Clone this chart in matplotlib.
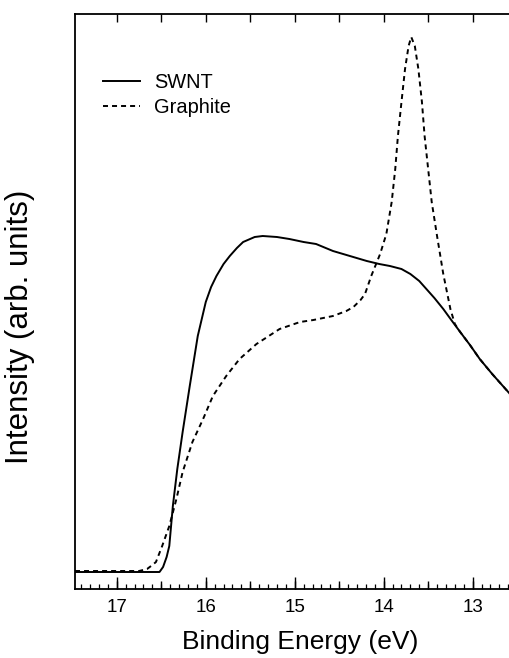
import matplotlib
matplotlib.use("Agg")
import matplotlib.pyplot as plt
from matplotlib.ticker import MultipleLocator, FixedLocator

plt.rcParams['font.family'] = ['Liberation Sans', 'DejaVu Sans']
plt.rcParams['lines.scale_dashes'] = False

# Binding energy (eV) and intensity (arb. units)
swnt_energy = [17.47, 16.52, 16.48, 16.44, 16.41, 16.37, 16.32, 16.26, 16.18, 16.09,
               16.00, 15.94, 15.88, 15.80, 15.73, 15.65, 15.58, 15.45, 15.36, 15.20,
               15.06, 14.90, 14.76, 14.57, 14.38, 14.19, 14.05, 13.93, 13.80, 13.70,
               13.60, 13.52, 13.43, 13.33, 13.24, 13.14, 13.03, 12.92, 12.78, 12.61,
               12.58]
swnt_intensity = [17, 17, 22, 32, 43, 83, 120, 157, 203, 253,
                  287, 302, 313, 325, 333, 341, 347, 352, 353, 352,
                  350, 347, 345, 338, 333, 328, 325, 323, 320, 315,
                  308, 300, 291, 280, 269, 257, 244, 230, 215, 198,
                  195]

graphite_energy = [17.47, 16.75, 16.66, 16.60, 16.56, 16.49, 16.41, 16.33, 16.26, 16.15,
                   16.03, 15.92, 15.77, 15.62, 15.43, 15.17, 14.94, 14.79, 14.57, 14.42,
                   14.34, 14.26, 14.21, 14.14, 14.04, 13.97, 13.91, 13.87, 13.84, 13.80,
                   13.76, 13.72, 13.69, 13.65, 13.61, 13.57, 13.54, 13.50, 13.46, 13.40,
                   13.33, 13.25, 13.20, 13.14, 13.03, 12.92, 12.78, 12.61, 12.58]
graphite_intensity = [18, 18, 20, 24, 27, 43, 63, 90, 117, 147,
                      170, 193, 213, 230, 245, 260, 267, 269, 273, 278,
                      282, 289, 295, 313, 335, 355, 387, 420, 453, 487,
                      520, 543, 552, 543, 520, 487, 453, 420, 387, 353,
                      315, 280, 265, 257, 244, 230, 215, 198, 195]

W, H = 510, 658
fig = plt.figure(figsize=(W / 100, H / 100), dpi=100)
ax = fig.add_axes([75 / W, (H - 589) / H, (W - 75) / W, (589 - 14) / H])

ax.plot(swnt_energy, swnt_intensity, color='black', lw=1.4, label='SWNT')
ax.plot(graphite_energy, graphite_intensity, color='black', lw=1.4,
        dashes=(3.6, 2.9), label='Graphite')

ax.set_xlim(17.47, 12.58)
ax.set_ylim(0, 575)

for s in ['left', 'bottom', 'top']:
    ax.spines[s].set_linewidth(1.3)
ax.spines['right'].set_visible(False)

ax.set_yticks([])
ax.xaxis.set_major_locator(MultipleLocator(1.0))
ax.xaxis.set_minor_locator(MultipleLocator(0.1))
ax.tick_params(axis='x', which='major', direction='in', length=8.5, width=1.0,
               top=False, bottom=True, labelsize=13.5, pad=7.5)
ax.tick_params(axis='x', which='minor', direction='in', length=3.6, width=0.9,
               top=True, bottom=True)

# half-eV ticks (bottom medium, top longer)
ax2 = ax.twiny()
ax2.set_xlim(ax.get_xlim())
ax2.xaxis.set_major_locator(MultipleLocator(0.5))
ax2.xaxis.set_minor_locator(FixedLocator([]))
ax2.tick_params(axis='x', which='major', direction='in', length=5.8, width=1.0,
                top=True, bottom=True, labeltop=False, labelbottom=False)
for s in ax2.spines.values():
    s.set_visible(False)
ax2.set_yticks([])

ax.set_xlabel('Binding Energy (eV)', fontsize=19)
ax.xaxis.set_label_coords(0.517, -0.071)
ax.set_ylabel('Intensity (arb. units)', fontsize=22.5)
ax.yaxis.set_label_coords(-0.093, 0.456)

ax.legend(loc='upper left', bbox_to_anchor=(0.064, 0.897), frameon=False,
          fontsize=14.4, handlelength=1.85, handletextpad=0.7,
          labelspacing=0.28, borderpad=0, borderaxespad=0)

fig.savefig('out.png', dpi=100)
